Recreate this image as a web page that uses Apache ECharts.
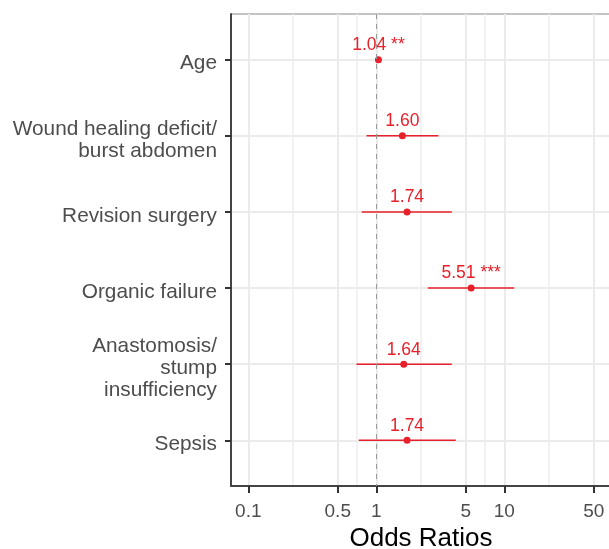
<!DOCTYPE html>
<html><head><meta charset="utf-8">
<script src="https://cdn.jsdelivr.net/npm/echarts@6/dist/echarts.min.js"></script>
<style>html,body{margin:0;padding:0;background:#fff}#c{width:609px;height:549px}</style>
</head><body><div id="c"></div>
<script>
const categories = ["Age", "Wound healing deficit/\nburst abdomen", "Revision surgery", "Organic failure", "Anastomosis/\nstump\ninsufficiency", "Sepsis"];
const oddsRatios = [1.04, 1.60, 1.74, 5.51, 1.64, 1.74];
const ciLower = [1.01, 0.84, 0.77, 2.53, 0.70, 0.73];
const ciUpper = [1.07, 3.06, 3.89, 11.97, 3.89, 4.18];
const significance = ["**", "", "", "***", "", ""];
const xTickValues = [0.1, 0.5, 1, 5, 10, 50];
const xMinorValues = [0.2236, 0.7071, 2.236, 7.071, 22.36];
const xLimits = [0.0733, 68.2];
const refValue = 1;

const lg = v => Math.log10(v);
const RED = '#E8202A';
const chart = echarts.init(document.getElementById('c'), null, {renderer: 'canvas'});
const yPos = categories.map((c, i) => i + 1);
const yFont = {fontFamily: 'Liberation Sans', fontSize: 20.8, color: '#4D4D4D', align: 'right', lineHeight: 22};

chart.setOption({
  backgroundColor: '#fff',
  animation: false,
  grid: {left: 231, right: -2, top: 14, bottom: 63, show: true, borderColor: '#888', borderWidth: 1, outerBoundsMode: 'none', containLabel: false},
  xAxis: [{
    type: 'value', min: lg(xLimits[0]), max: lg(xLimits[1]),
    name: 'Odds Ratios', nameLocation: 'middle', nameGap: 40,
    nameTextStyle: {fontFamily: 'Liberation Sans', fontSize: 26, color: '#000'},
    axisLine: {show: true, onZero: false, lineStyle: {color: '#444', width: 2}},
    axisTick: {show: true, length: 7, customValues: xTickValues.map(lg), lineStyle: {color: '#333', width: 2}},
    axisLabel: {customValues: xTickValues.map(lg), margin: 16, fontFamily: 'Liberation Sans', fontSize: 19, color: '#4D4D4D',
      formatter: v => String(parseFloat(Math.pow(10, v).toPrecision(3)))},
    splitLine: {show: true, lineStyle: {color: '#EBEBEB', width: 2}}
  }, {
    type: 'value', min: lg(xLimits[0]), max: lg(xLimits[1]), position: 'bottom',
    axisLine: {show: false}, axisLabel: {show: false},
    axisTick: {show: false, customValues: xMinorValues.map(lg)},
    splitLine: {show: true, lineStyle: {color: '#EEEEEE', width: 1.5}}
  }],
  yAxis: {
    type: 'value', inverse: true, min: 0.4, max: 6.6,
    axisLine: {show: true, onZero: false, lineStyle: {color: '#444', width: 2}},
    axisTick: {show: true, length: 6, customValues: yPos, lineStyle: {color: '#333', width: 2}},
    axisLabel: Object.assign({customValues: yPos, margin: 14,
      formatter: v => '{s| }\n' + categories[Math.round(v) - 1].split('\n').map(l => '{t|' + l + '}').join('\n'),
      rich: {s: {lineHeight: 8, fontSize: 2, fontFamily: 'Liberation Sans'}, t: Object.assign({}, yFont)}}, yFont),
    splitLine: {show: true, lineStyle: {color: '#EBEBEB', width: 2}}
  },
  series: [{
    type: 'custom', xAxisIndex: 0,
    data: categories.map((c, i) => [lg(ciLower[i]), lg(ciUpper[i]), yPos[i]]),
    encode: {x: [0, 1], y: 2},
    renderItem: (params, api) => {
      const a = api.coord([api.value(0), api.value(2)]);
      const b = api.coord([api.value(1), api.value(2)]);
      return {type: 'line', shape: {x1: a[0], y1: a[1], x2: b[0], y2: b[1]}, style: {stroke: RED, lineWidth: 1.5}};
    },
    z: 3
  }, {
    type: 'scatter', xAxisIndex: 0, symbolSize: 7,
    itemStyle: {color: RED, opacity: 1},
    data: categories.map((c, i) => [lg(oddsRatios[i]), yPos[i]]),
    label: {show: true, position: 'top', distance: 2, color: RED, fontFamily: 'Liberation Sans', fontSize: 17.5,
      formatter: p => oddsRatios[p.dataIndex].toFixed(2) + (significance[p.dataIndex] ? ' ' + significance[p.dataIndex] : '')},
    markLine: {silent: true, symbol: ['none', 'none'], label: {show: false},
      lineStyle: {type: [5, 5], color: '#9A9A9A', width: 1, opacity: 1},
      data: [{xAxis: lg(refValue)}]},
    z: 4
  }]
});
</script></body></html>
